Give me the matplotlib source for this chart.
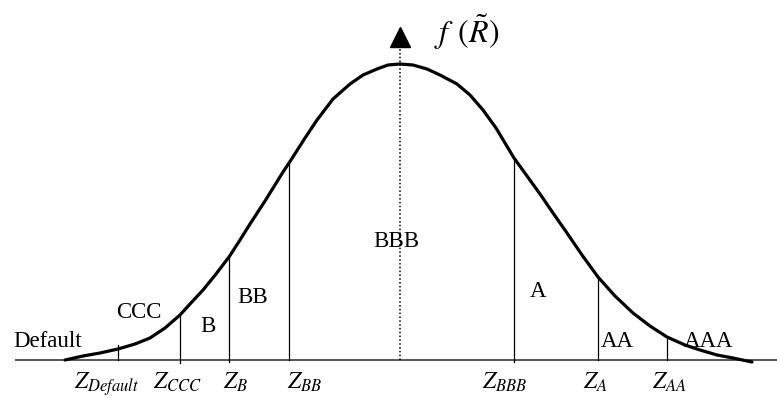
import matplotlib
matplotlib.use("Agg")
import matplotlib.pyplot as plt

# density curve (x along the axis, height above it)
curve_x = [65, 83, 100, 118, 135, 150, 165, 180, 190, 203, 216, 229, 240, 250,
           265, 283, 289, 298, 305, 317, 333, 350, 363, 377, 388, 400, 413, 427,
           440, 457, 470, 483, 496, 505, 514, 527, 540, 553, 567, 582, 598, 615,
           633, 650, 667, 685, 700, 717, 733, 752]
curve_h = [0, 4, 7, 11, 16, 22, 32, 45, 56, 70, 86, 103, 120, 136,
           159, 188, 197, 211, 222, 240, 261, 276, 285, 291, 295, 296, 295, 291,
           285, 276, 265, 250, 232, 217, 202, 184, 166, 147, 127, 105, 83, 64,
           47, 34, 23, 15, 10, 5, 2, -2]

# rating cut-off points
cut_names = ["Default", "CCC", "B", "BB", "BBB", "A", "AA"]
cut_x = [118, 180, 229, 289, 514, 598, 667]
cut_h = [15, 45, 103, 197, 202, 83, 23]
cut_low = [0, -3, -2, 0, -2, 0, 0]

# rating bands
band_names = ["Default", "CCC", "B", "BB", "BBB", "A", "AA", "AAA"]

peak_x = 400

fig = plt.figure(figsize=(7.77, 3.98), dpi=100)
ax = fig.add_axes([0, 0, 1, 1])
ax.set_xlim(0, 777)
ax.set_ylim(-38, 360)
ax.axis("off")

plt.rcParams["mathtext.fontset"] = "stix"
serif = "Liberation Serif"

# horizontal axis
ax.plot([15, 777], [0, 0], color="#555555", lw=1.4, solid_capstyle="butt")

# bell curve
ax.plot(curve_x, curve_h, color="black", lw=2.3, solid_capstyle="round",
        solid_joinstyle="round")

# cut-off lines
for x, h, lo in zip(cut_x, cut_h, cut_low):
    ax.plot([x, x], [lo, h], color="black", lw=0.9)

# mean: dotted line with arrow head
ax.plot([peak_x, peak_x], [0, 313], color="black", lw=1.1, ls=(0, (1, 1.5)))
ax.plot([peak_x], [323], marker="^", ms=15, color="black", mec="black")
ax.text(434, 360 - 43, r"$f\;\,(\tilde{R})$", fontsize=23, ha="left",
        va="baseline")

# band labels (left/centre, baseline)
band_pos = [(13, 13, "left"), (139, 42, "center"), (208, 28, "center"),
            (253, 57, "center"), (396, 113, "center"), (538, 63, "center"),
            (617, 13, "center"), (709, 13, "center")]
for name, (x, y, ha) in zip(band_names, band_pos):
    ax.text(x, y, name, fontsize=16.5, family=serif, ha=ha, va="baseline")

# cut-off labels below the axis
z_pos = [107, 177, 235, 305, 505, 595, 669]
for name, x in zip(cut_names, z_pos):
    ax.text(x, -29, r"$Z_{%s}$" % name, fontsize=17, ha="center",
            va="baseline")

fig.savefig("out.png", dpi=100)
